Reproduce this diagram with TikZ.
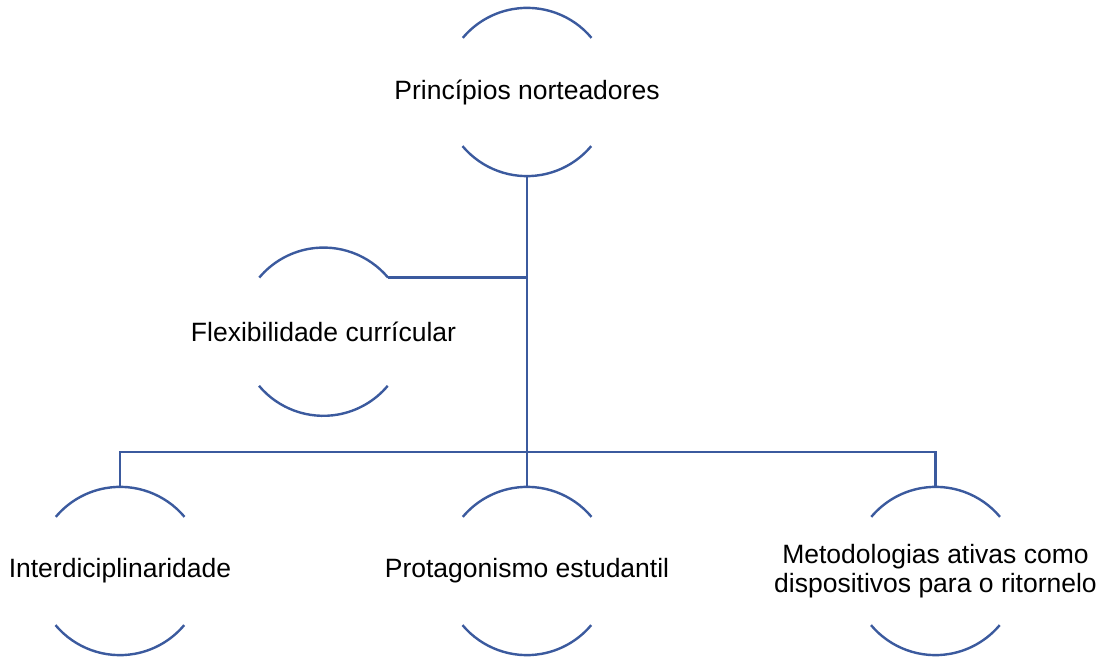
\documentclass[tikz,border=0pt]{standalone}
\usepackage{fontspec}
\setmainfont{Liberation Sans}
\usetikzlibrary{calc}
\definecolor{zblue}{RGB}{59,90,158}
\tikzset{zring/.style={
  circle,
  inner sep=0pt,
  minimum size=168pt}}
\tikzset{zarc/.style={
  draw=zblue,
  line width=2.4pt}}
\tikzset{zline/.style={
  draw=zblue,
  line width=2.4pt}}
\tikzset{ztext/.style={
  align=center,
  inner sep=0pt,
  font=\fontsize{26.5}{29}\selectfont}}

\begin{document}
\begin{tikzpicture}[x=1pt,y=1pt]
  \useasboundingbox (0,0) rectangle (1105,656);

  %%%% Place the rings %%%%
  \node[zring] (top) at (527,564) {};
  \node[zring] (flex) at (323.5,324.3) {};
  \node[zring] (inter) at (120,85) {};
  \node[zring] (prot) at (527,85) {};
  \node[zring] (meto) at (935.5,85) {};

  %% Top and bottom arc of each ring
  \foreach \n in {top,flex,inter,prot,meto}{
    \draw[zarc] (\n.40) arc (40:140:84pt);
    \draw[zarc] (\n.220) arc (220:320:84pt);
  }

  %% Texts
  \node[ztext] at (top) {Princípios norteadores};
  \node[ztext] at (flex) {Flexibilidade currícular};
  \node[ztext] at (inter) {Interdiciplinaridade};
  \node[ztext] at (prot) {Protagonismo estudantil};
  \node[ztext] at (meto) {Metodologias ativas como\\dispositivos para o ritornelo};

  %%%% Connectors %%%%
  \coordinate (bar) at (527,204);
  \draw[zline] (top.south) -- (prot.north);
  \draw[zline] (flex.40) -- (flex.40 -| top.south);
  \draw[zline] (inter.north) |- (bar) -| (meto.north);

\end{tikzpicture}
\end{document}
